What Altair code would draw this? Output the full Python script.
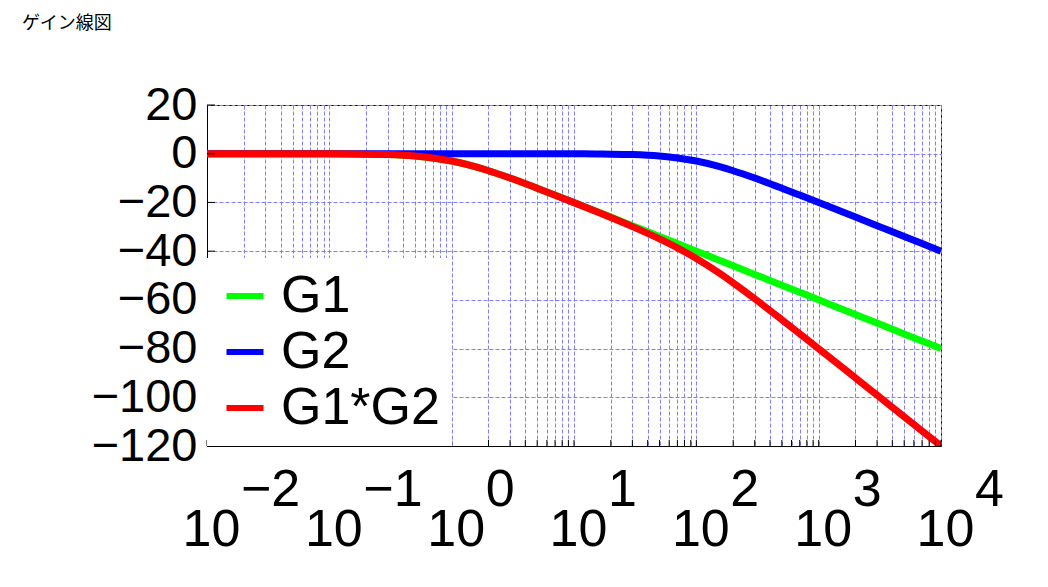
import altair as alt
import pandas as pd

# ---- data (gain in dB vs angular frequency) ----
freq = [0.01, 0.02, 0.03, 0.05, 0.07, 0.1, 0.15, 0.2, 0.3, 0.5, 0.7, 1, 1.5, 2, 3, 5, 7,
        10, 15, 20, 30, 50, 70, 100, 150, 200, 300, 500, 700, 1000, 1500, 2000, 3000,
        5000, 7000, 10000]
g1_db = [0.00, 0.00, 0.00, -0.01, -0.02, -0.04, -0.10, -0.17, -0.37, -0.97, -1.73, -3.01,
         -5.12, -6.99, -10.00, -14.15, -16.99, -20.04, -23.54, -26.03, -29.55, -33.98,
         -36.90, -40.00, -43.52, -46.02, -49.54, -53.98, -56.90, -60.00, -63.52, -66.02,
         -69.54, -73.98, -76.90, -80.00]
g2_db = [0.00, 0.00, 0.00, 0.00, 0.00, 0.00, 0.00, 0.00, 0.00, 0.00, 0.00, 0.00,
         0.00, 0.00, 0.00, -0.01, -0.02, -0.04, -0.10, -0.17, -0.37, -0.97,
         -1.73, -3.01, -5.12, -6.99, -10.00, -14.15, -16.99, -20.04, -23.54, -26.03,
         -29.55, -33.98, -36.90, -40.00]
g12_db = [0.00, 0.00, 0.00, -0.01, -0.02, -0.04, -0.10, -0.17, -0.37, -0.97, -1.73, -3.01,
          -5.12, -6.99, -10.00, -14.16, -17.01, -20.08, -23.64, -26.20, -29.92, -34.95,
          -38.63, -43.01, -48.64, -53.01, -59.54, -68.13, -73.89, -80.04, -87.06, -92.05,
          -99.09, -107.96, -113.80, -120.00]

series_names = ["G1", "G2", "G1*G2"]
series_colors = ["#00ff00", "#0000ff", "#ff0000"]

decades = [0.01, 0.1, 1, 10, 100, 1000, 10000]
exponents = ["\u22122", "\u22121", "0", "1", "2", "3", "4"]
x_tick_values = [0.01, 0.02, 0.03, 0.04, 0.05, 0.06, 0.07, 0.08, 0.09,
                 0.1, 0.2, 0.3, 0.4, 0.5, 0.6, 0.7, 0.8, 0.9,
                 1, 2, 3, 4, 5, 6, 7, 8, 9,
                 10, 20, 30, 40, 50, 60, 70, 80, 90,
                 100, 200, 300, 400, 500, 600, 700, 800, 900,
                 1000, 2000, 3000, 4000, 5000, 6000, 7000, 8000, 9000,
                 10000]
y_tick_values = [-120, -100, -80, -60, -40, -20, 0, 20]

W, H = 734, 341
FONT = "Liberation Sans"
FS = 52
FS_Y = 47
GRID = "#7f7fff"

xs = alt.Scale(type="log", domain=[0.01, 10000], nice=False)
ys = alt.Scale(domain=[-120, 20], nice=False, zero=False)

x_axis = alt.Axis(
    values=x_tick_values, grid=True, gridColor=GRID, gridDash=[4, 2], gridWidth=1,
    ticks=False, tickSize=0, domain=True, domainColor="black", domainWidth=1,
    labelExpr="abs(log(datum.value)/LN10 - round(log(datum.value)/LN10)) < 0.000001 ? '10' : ''",
    labelFont=FONT, labelFontSize=FS, labelColor="black", labelPadding=99,
    labelBaseline="alphabetic", labelOffset=4, labelOverlap=False, labelFlush=False,
    labelBound=False, title=None,
)
y_axis = alt.Axis(
    values=y_tick_values, grid=True, gridColor=GRID, gridDash=[4, 2], gridWidth=1,
    ticks=False, tickSize=0, domain=True, domainColor="black", domainWidth=1,
    labelExpr="datum.value < 0 ? '\u2212' + abs(datum.value) : '' + datum.value",
    labelFont=FONT, labelFontSize=FS_Y, labelColor="black", labelPadding=10,
    labelOverlap=False, labelFlush=False, labelBound=False, title=None,
)
legend = alt.Legend(
    orient="bottom-left", title=None, fillColor="white", padding=12, offset=0,
    symbolType="stroke", symbolStrokeWidth=6, symbolSize=1369,
    labelFont=FONT, labelFontSize=FS, labelColor="black", labelLimit=400,
    rowPadding=4, labelOffset=10,
)
color = alt.Color("series:N", scale=alt.Scale(domain=series_names, range=series_colors),
                  legend=legend)

layers = []
for name, vals in zip(series_names, [g1_db, g2_db, g12_db]):
    df = pd.DataFrame({"freq": freq, "db": vals, "series": name})
    layers.append(
        alt.Chart(df).mark_line(strokeWidth=7, clip=True, interpolate="monotone").encode(
            x=alt.X("freq:Q", scale=xs, axis=x_axis),
            y=alt.Y("db:Q", scale=ys, axis=y_axis),
            color=color,
        )
    )

xt = alt.Chart(pd.DataFrame({"freq": x_tick_values})).mark_rule(color="black", strokeWidth=1).encode(
    x=alt.X("freq:Q", scale=xs, axis=x_axis), y=alt.value(H - 6), y2=alt.value(H)
)
yt = alt.Chart(pd.DataFrame({"db": y_tick_values})).mark_rule(color="black", strokeWidth=1).encode(
    y=alt.Y("db:Q", scale=ys, axis=y_axis), x=alt.value(0), x2=alt.value(8)
)
exp_text = alt.Chart(pd.DataFrame({"freq": decades, "exp": exponents})).mark_text(
    font=FONT, fontSize=FS, align="left", baseline="alphabetic", dx=34, color="black"
).encode(
    x=alt.X("freq:Q", scale=xs, axis=x_axis), y=alt.value(H + 60), text="exp:N"
)

chart = alt.layer(*layers, xt, yt, exp_text).properties(
    width=W, height=H,
    padding={"left": 199, "top": 97, "right": 99, "bottom": 133},
    autosize=alt.AutoSizeParams(type="none"),
    background="white",
    title=alt.TitleParams(
        "ゲイン線図", anchor="start", frame="group", font="Noto Sans CJK JP",
        fontSize=18, fontWeight="normal", color="black", dx=-185, offset=39,
        baseline="middle",
    ),
).configure_view(stroke="black", strokeWidth=1)

chart.save("out.html", embed_options={"renderer": "svg", "actions": False})
